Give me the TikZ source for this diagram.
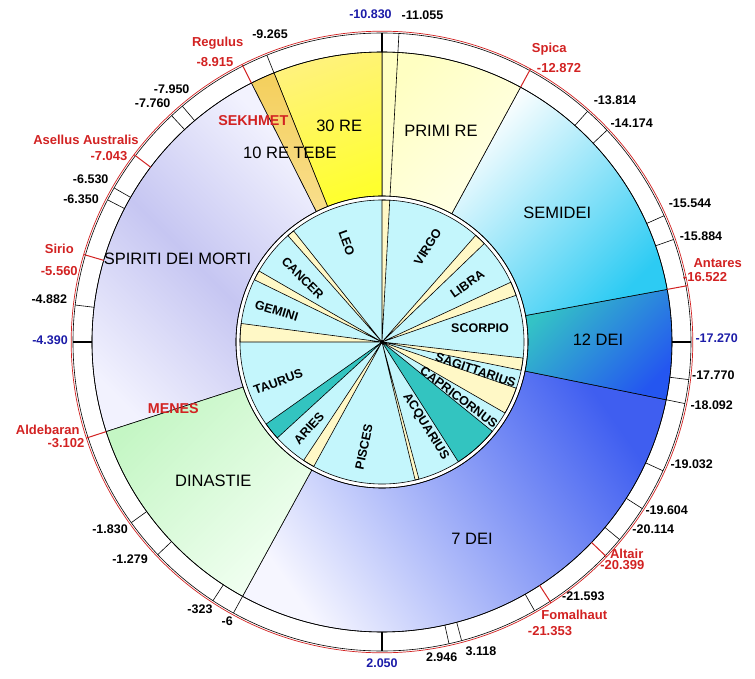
\documentclass[tikz,border=0pt]{standalone}
\usepackage{fontspec}
\setmainfont{Liberation Sans}
\begin{document}
\begin{tikzpicture}[x=1pt,y=1pt, every node/.style={inner sep=0pt, font=\bfseries\fontsize{12.5}{14}\selectfont},
  declare function={ang(\yr)=90+(\yr+10.83)*13.9752;},
  ringlbl/.style={font=\fontsize{16.5}{18}\selectfont},
  zodlbl/.style={font=\bfseries\fontsize{12.5}{14}\selectfont},
  starlbl/.style={stRed, font=\bfseries\fontsize{13}{14}\selectfont}]
  \definecolor{zdCyan}{HTML}{C4F6FC}
  \definecolor{zdBeige}{HTML}{FFF8C6}
  \definecolor{zdTeal}{HTML}{33C4C0}
  \definecolor{stRed}{HTML}{D22222}
  \definecolor{axBlue}{HTML}{1C1CA8}
  \definecolor{deiBlue}{HTML}{3F5EF0}
  \definecolor{deiPale}{HTML}{F6F6FF}
  \definecolor{dodTeal}{HTML}{34C3C6}
  \definecolor{dodBlue}{HTML}{2456F0}
  \definecolor{semCyan}{HTML}{2DCBF3}
  \definecolor{primA}{HTML}{FFFFC2}
  \definecolor{primB}{HTML}{FFFFE8}
  \definecolor{reA}{HTML}{FFF27C}
  \definecolor{reB}{HTML}{FFFF2E}
  \definecolor{sekA}{HTML}{F4CF5C}
  \definecolor{sekB}{HTML}{F9DE8C}
  \definecolor{spiA}{HTML}{F2F2FE}
  \definecolor{spiB}{HTML}{C6C6F2}
  \definecolor{dinA}{HTML}{C4F6C4}
  \definecolor{dinB}{HTML}{F2FFF2}
  \useasboundingbox (-382,-336) rectangle (373,342);
  \foreach \f/\t/\ca/\cm/\cb/\sa in {
    -0.006/7.668/deiBlue/deiBlue!50!deiPale/deiPale/-55,
    -18.092/-16.522/dodTeal/dodTeal!50!dodBlue/dodBlue/45,
    -16.522/-12.872/white/white!50!semCyan/semCyan/45,
    -12.872/-10.830/primA/primA!50!primB/primB/45,
    -10.830/-9.265/reA/reA!50!reB/reB/20,
    -9.265/-8.915/sekA/sekA!50!sekB/sekB/0,
    -8.915/-3.102/spiA/spiB/spiA/-45,
    -3.102/-0.006/dinA/dinA!50!dinB/dinB/45}{
    \pgfmathsetmacro{\sA}{ang(\f)}
    \pgfmathsetmacro{\sB}{ang(\t)}
    \path[shade, top color=\ca, bottom color=\cb, middle color=\cm, shading angle=\sa, draw=black, line width=0.6pt]
      (\sA:146) arc[start angle=\sA, end angle=\sB, radius=146] -- (\sB:290)
      arc[start angle=\sB, end angle=\sA, radius=290] -- cycle;
  }
  \draw[line width=0.6pt] ({ang(-11.055)}:146) -- ({ang(-11.055)}:290);
  \fill[zdCyan] (0,0) circle[radius=142];
  \foreach \a/\b/\c in {19.2/24.9/zdBeige, 43.9/48.7/zdBeige, 86.86/90/zdBeige, 128.5/131.5/zdBeige,
    150/154/zdBeige, 172.5/180/zdBeige, 215.3/222.5/zdTeal, 236.5/241.27/zdBeige, 283.5/285.1/zdBeige,
    302.5/321/zdTeal, 330/341/zdBeige, 348.51/353.5/zdBeige}
    \filldraw[fill=\c, line width=0.6pt] (0,0) -- (\a:142) arc[start angle=\a, end angle=\b, radius=142] -- cycle;
  \fill (0,0) circle[radius=2];
  \draw[line width=0.6pt] (0,0) circle[radius=142] (0,0) circle[radius=146] (0,0) circle[radius=290] (0,0) circle[radius=309];
  \draw[stRed, line width=0.7pt] (0,0) circle[radius=310.8];
  \foreach \v in {-9.265,-7.950,-7.760,-6.530,-6.350,-4.882,-1.830,-1.279,-0.323,-0.006,2.946,3.118,
    -21.593,-20.114,-19.604,-19.032,-18.092,-17.770,-15.884,-15.544,-14.174,-13.814,-11.055}
    \draw[line width=0.6pt] ({ang(\v)}:290) -- ({ang(\v)}:309);
  \foreach \v in {-10.830,-4.390,2.050,-17.270}
    \draw[line width=1.6pt] ({ang(\v)}:290) -- ({ang(\v)}:309);
  \foreach \v in {-8.915,-7.043,-5.560,-3.102,-21.353,-20.399,-16.522,-12.872}
    \draw[stRed, line width=1pt] ({ang(\v)}:290) -- ({ang(\v)}:310.8);
  \foreach \txt/\x/\y [count=\i] in {-11.055/40.5/327, -9.265/-112/308, -7.950/-210.3/252.7,
    -7.760/-229.3/239.3, -6.530/-291.3/162.7, -6.350/-301/142.7, -4.882/-332.7/42.7,
    -1.830/-272/-187, -1.279/-252/-216.7, -323/-182/-267.7, -6/-154.7/-278.7,
    2.946/59.7/-315.3, 3.118/99/-308.7, -21.593/201.3/-254.3, -20.114/271.3/-186.7,
    -19.604/284.7/-167.7, -19.032/309.7/-122.7, -18.092/329.7/-62.7, -17.770/331.3/-32.7,
    -15.884/319/106, -15.544/308/138.7, -14.174/249.7/218.7, -13.814/233/242}
    \node (tk\i) at (\x,\y) {\txt};
  \foreach \txt/\x/\y [count=\i] in {-10.830/-11.5/328, -4.390/-332/2, 2.050/0/-321, -17.270/334.7/4.3}
    \node[axBlue] (ax\i) at (\x,\y) {\txt};
  \foreach \nm/\val/\xa/\ya/\xb/\yb [count=\i] in {Regulus/-8.915/-164.3/299.3/-167/280.3,
    Asellus Australis/-7.043/-296/202/-273/186, Sirio/-5.560/-322.7/92.7/-322.7/71.3,
    Aldebaran/-3.102/-334.3/-87.7/-316/-101, Fomalhaut/-21.353/192.3/-272.7/168/-289.3,
    Altair/-20.399/244.7/-212/240.3/-223.3, Antares/-16.522/335.7/78.7/323/65.3,
    Spica/-12.872/167.3/292.7/177/273.7}{
    \node[starlbl] (sn\i) at (\xa,\ya) {\nm};
    \node[starlbl] (sv\i) at (\xb,\yb) {\val};
  }
  \node[ringlbl] (rl30) at (-42.8,216) {30 RE};
  \node[ringlbl] (rlprimi) at (59,211) {PRIMI RE};
  \node[ringlbl] (rltebe) at (-92,188.7) {10 RE TEBE};
  \node[ringlbl] (rlspiriti) at (-204.5,83) {SPIRITI DEI MORTI};
  \node[ringlbl] (rlsemidei) at (175.2,129.5) {SEMIDEI};
  \node[ringlbl] (rl12) at (216,2) {12 DEI};
  \node[ringlbl] (rl7) at (90,-197) {7 DEI};
  \node[ringlbl] (rldinastie) at (-168.7,-138.7) {DINASTIE};
  \node[starlbl, font=\bfseries\fontsize{14.3}{16}\selectfont] (rlsekhmet) at (-128.7,221.5) {SEKHMET};
  \node[starlbl, font=\bfseries\fontsize{14.3}{16}\selectfont] (rlmenes) at (-208.7,-66.7) {MENES};
  \foreach \nm/\x/\y/\r in {LEO/-35.3/98.7/-70, VIRGO/45.7/95.3/58, LIBRA/85.3/58/35,
    SCORPIO/98/13.7/0, SAGITTARIUS/93.7/-28/-19, CAPRICORNUS/77/-55.3/-37,
    ACQUARIUS/43.7/-84.7/-58, PISCES/-18/-104.7/78, ARIES/-73/-86.3/48,
    TAURUS/-103.7/-39.7/20, GEMINI/-105.3/31.3/-17, CANCER/-79.3/63.7/-45}
    \node[zodlbl, rotate=\r] (z\nm) at (\x,\y) {\nm};
\end{tikzpicture}
\end{document}
